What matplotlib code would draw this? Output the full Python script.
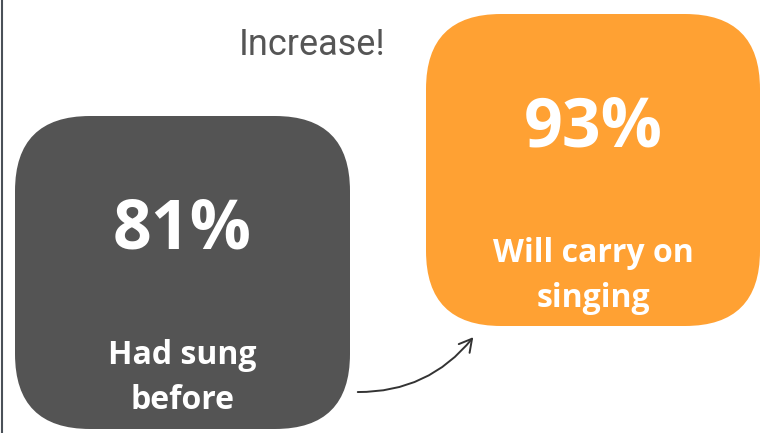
import matplotlib
matplotlib.use("Agg")
import matplotlib.pyplot as plt
from matplotlib.patches import FancyBboxPatch, FancyArrowPatch

# Survey figures
categories = ["Had sung\nbefore", "Will carry on\nsinging"]
values = [81, 93]
colors = ["#545454", "#FFA133"]
heading = "Increase!"

W, H = 773, 439
fig = plt.figure(figsize=(W / 100, H / 100), dpi=100)
ax = fig.add_axes([0, 0, 1, 1])
ax.set_xlim(0, W)
ax.set_ylim(H, 0)
ax.axis("off")

# card geometry (left, top, width, height) in pixel units
cards = [(15, 117, 335, 313), (426, 15, 334, 312)]
radius = 75

for (x, y, w, h), cat, val, col in zip(cards, categories, values, colors):
    box = FancyBboxPatch((x, y), w, h,
                         boxstyle=f"round,pad=0,rounding_size={radius}",
                         facecolor=col, edgecolor="none")
    ax.add_patch(box)
    cx = x + w / 2
    ax.text(cx, y + 114, f"{val}%", ha="center", va="center",
            color="white", fontsize=49, fontweight="bold",
            family=["Open Sans", "DejaVu Sans"])
    ax.text(cx, y + 261, cat, ha="center", va="center",
            color="white", fontsize=23, fontweight="bold",
            linespacing=1.45, family=["Open Sans", "DejaVu Sans"])

ax.text(312, 45, heading, ha="center", va="center", color="#555555",
        fontsize=26, family=["Roboto", "DejaVu Sans"])

# curved arrow between the cards
arrow = FancyArrowPatch((355, 393), (475, 336),
                        connectionstyle="arc3,rad=0.25",
                        arrowstyle="->,head_length=9,head_width=5",
                        color="#333333", lw=1.4)
ax.add_patch(arrow)

# thin rule on the left edge
ax.plot([1.5, 1.5], [0, 434], color="#4a5058", lw=1.5, solid_capstyle="butt")

fig.savefig("out.png", dpi=100, facecolor="white")
